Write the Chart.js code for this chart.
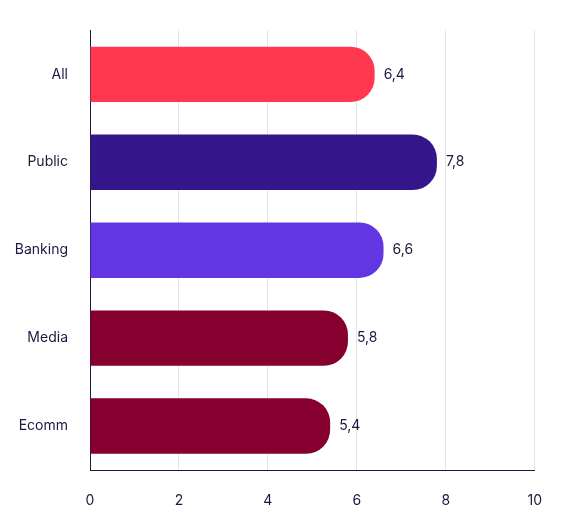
<!DOCTYPE html>
<html><head><meta charset="utf-8">
<script src="https://cdn.jsdelivr.net/npm/chart.js@4/dist/chart.umd.min.js"></script>
<style>html,body{margin:0;background:#fff}#w{width:564px;height:521px}</style>
</head><body><div id="w"><canvas id="c"></canvas></div>
<script>
const categories=["All","Public","Banking","Media","Ecomm"];
const values=[6.4,7.8,6.6,5.8,5.4];
const colors=["#FF3850","#35158A","#6236E0","#85002F","#85002F"];
const xTicks=[0,2,4,6,8,10];
const labelPlugin={id:'lbl',afterDatasetsDraw(ch){const ctx=ch.ctx;const m=ch.getDatasetMeta(0);ctx.save();ctx.font='14px Inter';ctx.fillStyle='#1a1a40';ctx.textBaseline='middle';
m.data.forEach((b,i)=>{ctx.fillText(String(values[i]).replace('.',','),b.x+9,b.y);});ctx.restore();}};
new Chart(document.getElementById('c'),{type:'bar',
data:{labels:categories,datasets:[{data:values,backgroundColor:colors,borderRadius:{topRight:24,bottomRight:24},borderSkipped:'start',barPercentage:0.63,categoryPercentage:1}]},
options:{indexAxis:'y',responsive:true,maintainAspectRatio:false,animation:false,
layout:{padding:{top:20,right:26,bottom:0,left:0}},
plugins:{legend:{display:false},tooltip:{enabled:false}},
scales:{x:{min:0,max:10,afterBuildTicks(a){a.ticks=xTicks.map(v=>({value:v}));},
afterFit(a){a.height=51;},
grid:{color:'#e3e3e3',drawTicks:false},border:{color:'#1a1a40',width:1},
ticks:{padding:22,color:'#1a1a40',font:{family:'Inter',size:14}}},
y:{afterFit(a){a.width=90;},grid:{display:false,drawTicks:false},border:{color:'#1a1a40',width:1},
ticks:{padding:22,color:'#1a1a40',font:{family:'Inter',size:14}}}}},
plugins:[labelPlugin]});
</script></body></html>
